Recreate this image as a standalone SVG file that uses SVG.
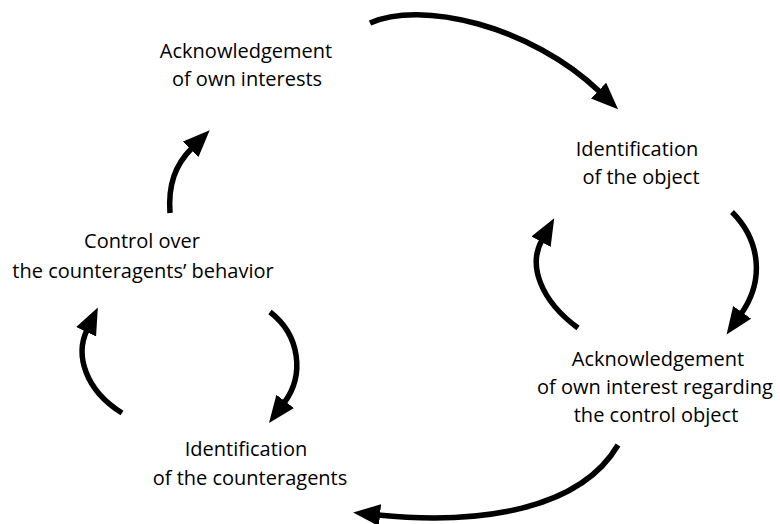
<svg xmlns="http://www.w3.org/2000/svg" width="780" height="524" viewBox="0 0 780 524">
<style>
text{font-family:"Open Sans","Noto Sans","DejaVu Sans",sans-serif;font-size:20px;fill:#000;text-anchor:middle}
.c{fill:none;stroke:#000;stroke-width:5.5;stroke-linecap:butt}
</style>
<defs>
<marker id="ah" markerUnits="userSpaceOnUse" markerWidth="30" markerHeight="24" refX="2" refY="11" orient="auto" viewBox="0 0 30 24">
<path d="M0,0 L27,11 L0,22 Z" fill="#000"/>
</marker>
</defs>
<rect width="780" height="524" fill="#fff"/>
<g id="n1"><text x="246" y="58">Acknowledgement</text><text x="247" y="86">of own interests</text></g>
<g id="n2"><text x="637" y="156">Identification</text><text x="641" y="184">of the object</text></g>
<g id="n3"><text x="658" y="366">Acknowledgement</text><text x="655" y="394">of own interest regarding</text><text x="656" y="422">the control object</text></g>
<g id="n4"><text x="246" y="456">Identification</text><text x="250" y="485">of the counteragents</text></g>
<g id="n5"><text x="142" y="248">Control over</text><text x="143" y="278">the counteragents’ behavior</text></g>
<g id="connectors">
<path class="c" marker-end="url(#ah)" d="M370,23 C420,0 530,25 600,92"/>
<path class="c" marker-end="url(#ah)" d="M732,212 C760,240 765,280 741,314"/>
<path class="c" marker-end="url(#ah)" d="M578,328 C540,300 528,265 542,240"/>
<path class="c" marker-end="url(#ah)" d="M618,445 C580,510 480,525 378,515"/>
<path class="c" marker-end="url(#ah)" d="M270,312 C300,335 305,375 284,403"/>
<path class="c" marker-end="url(#ah)" d="M122,413 C85,390 75,355 87,330"/>
<path class="c" marker-end="url(#ah)" d="M170,213 C168,185 175,165 192,148"/>
</g>
</svg>
